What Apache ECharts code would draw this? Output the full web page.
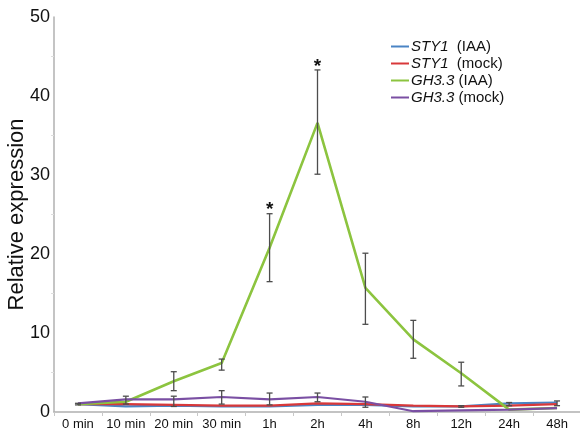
<!DOCTYPE html>
<html><head><meta charset="utf-8">
<script src="https://cdn.jsdelivr.net/npm/echarts@6/dist/echarts.min.js"></script>
<style>html,body{margin:0;padding:0;background:#fff}#c{width:580px;height:430px}</style>
</head><body><div id="c"></div>
<script>
var categories = ['0 min','10 min','20 min','30 min','1h','2h','4h','8h','12h','24h','48h'];
var yTicks = [0,10,20,30,40,50];

var sty1Iaa  = [1.0,0.7,0.8,0.7,0.7,0.9,0.9,0.7,0.7,1.1,1.2];
var sty1Mock = [1.0,1.0,0.9,0.8,0.8,1.1,1.0,0.8,0.7,0.8,1.0];
var gh33Iaa  = [1.0,1.3,3.9,6.2,20.8,36.6,15.7,9.2,4.9,0.3,0.5];
var gh33Mock = [1.1,1.6,1.6,1.9,1.6,1.9,1.3,0.1,0.2,0.3,0.5];

var gh33IaaLow  = [null,null,2.7,5.3,16.5,30.1,11.1,6.8,3.3,null,null];
var gh33IaaHigh = [null,null,5.1,6.7,25.1,43.3,20.1,11.6,6.3,null,null];
var gh33MockLow  = [0.9,1.0,0.7,1.0,0.9,1.3,0.6,null,null,null,null];
var gh33MockHigh = [1.1,2.0,2.0,2.7,2.4,2.4,1.9,null,null,null,null];
var sty1Low  = [null,null,null,null,null,null,null,null,0.6,0.8,0.8];
var sty1High = [null,null,null,null,null,null,null,null,0.8,1.2,1.4];
var sigMarks = ['','','','','*','*','','','','',''];

var seriesNames = ['STY1','STY1','GH3.3','GH3.3'];
var seriesTreat = ['(IAA)','(mock)','(IAA)','(mock)'];
var colors = ['#4a84c4','#d8383a','#8cc43f','#7a4fa3'];

function errData(low, high){
  var out = [];
  for (var i=0;i<low.length;i++){ if(low[i]!=null) out.push([i,low[i],high[i]]); }
  return out;
}
function errSeries(low, high){
  return {
    type:'custom', silent:true, z:5,
    renderItem:function(params, api){
      var x = api.value(0);
      var lo = api.coord([x, api.value(1)]);
      var hi = api.coord([x, api.value(2)]);
      var w = 3;
      var st = {stroke:'#4d4d4d', lineWidth:1.3};
      return {type:'group', children:[
        {type:'line', shape:{x1:lo[0],y1:lo[1],x2:hi[0],y2:hi[1]}, style:st},
        {type:'line', shape:{x1:lo[0]-w,y1:lo[1],x2:lo[0]+w,y2:lo[1]}, style:st},
        {type:'line', shape:{x1:hi[0]-w,y1:hi[1],x2:hi[0]+w,y2:hi[1]}, style:st}
      ]};
    },
    data: errData(low, high)
  };
}
var starData = [];
for (var i=0;i<sigMarks.length;i++){ if(sigMarks[i]) starData.push([i, gh33IaaHigh[i]]); }

var chart = echarts.init(document.getElementById('c'), null, {renderer:'canvas'});
var lineData = [sty1Iaa, sty1Mock, gh33Iaa, gh33Mock];
var series = [];
for (var k=0;k<4;k++){
  series.push({
    name: seriesNames[k]+' '+seriesTreat[k], type:'line', data: lineData[k],
    symbol:'none', z: (k===3?4:3),
    lineStyle:{color:colors[k], width:(k===2?2.6:2.2)},
    itemStyle:{color:colors[k]}
  });
}
series.push(errSeries(gh33IaaLow, gh33IaaHigh));
series.push(errSeries(gh33MockLow, gh33MockHigh));
series.push(errSeries(sty1Low, sty1High));
series.push({
  type:'custom', silent:true, z:6,
  renderItem:function(params, api){
    var p = api.coord([api.value(0), api.value(1)]);
    return {type:'text', x:p[0], y:p[1]+6, style:{text:'*', fill:'#111', font:'bold 19px "Liberation Sans", Arial, sans-serif', align:'center', verticalAlign:'bottom'}};
  },
  data: starData
});

var FF = '"Liberation Sans", Arial, sans-serif';
chart.setOption({
  animation:false,
  backgroundColor:'#fff',
  color: colors,
  grid:{left:54, top:17, bottom:18, width:527, containLabel:false, outerBoundsMode:'none'},
  legend:{
    data: series.slice(0,4).map(function(s){return s.name;}),
    orient:'vertical', left:386, top:34, itemGap:2, itemWidth:18, itemHeight:2,
    icon:'rect',
    formatter:function(name){
      var parts = name.split(' ');
      return '{g|'+parts[0]+'}{t|'+(parts[0]==='STY1'?'  ':' ')+parts[1]+'}';
    },
    textStyle:{
      padding:[0,0,0,-3],
      rich:{
        g:{fontStyle:'italic', fontSize:15, lineHeight:17, color:'#111', fontFamily:FF},
        t:{fontSize:15, lineHeight:17, color:'#111', fontFamily:FF}
      }
    }
  },
  xAxis:{
    type:'category', data: categories, boundaryGap:true,
    axisLine:{lineStyle:{color:'#b0b0b0', width:1.5}},
    axisTick:{show:true, lineStyle:{color:'#c8c8c8'}, length:4, inside:false},
    axisLabel:{color:'#111', fontSize:13, margin:6, interval:0, fontFamily:FF}
  },
  yAxis:{
    type:'value', min:0, max:50, interval:10,
    name:'Relative expression', nameLocation:'middle', nameGap:26, nameMoveOverlap:false,
    nameTextStyle:{fontSize:22, color:'#111', fontFamily:FF},
    axisLine:{show:true, lineStyle:{color:'#b0b0b0', width:1.5}},
    axisTick:{show:false},
    minorTick:{show:true, splitNumber:2, length:3, lineStyle:{color:'#ddd'}},
    splitLine:{show:false},
    axisLabel:{color:'#111', fontSize:18, margin:4, fontFamily:FF,
      formatter:function(v){return yTicks.indexOf(v)>=0 ? String(v) : '';}}
  },
  series: series
});
</script></body></html>
